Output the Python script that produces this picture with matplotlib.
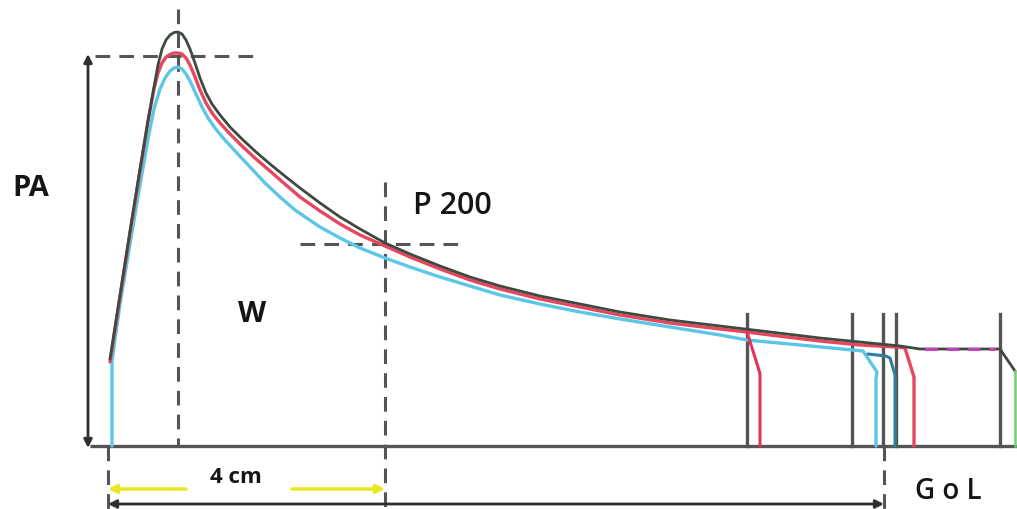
import matplotlib
matplotlib.use("Agg")
import matplotlib.pyplot as plt

# ---- data (diagram coordinates, y grows downward) ----
green_x = [110, 120, 130, 140, 148, 154, 158, 162, 166, 170, 174, 178, 182, 186, 190, 195, 200, 206, 212, 220, 230, 242, 256, 270, 286, 300, 320, 340, 360, 385,
           410, 440, 470, 500, 540, 580, 620, 670, 720, 770, 820, 860, 900, 920, 1000, 1015]
green_y = [360, 296, 232, 170, 122, 88, 66, 50, 41, 36, 33.5, 33, 35, 41, 50, 64, 79, 94, 105, 116, 128, 140, 153, 165, 178, 189, 204, 218, 230, 244,
           255, 267, 278, 287, 297, 305, 313, 321, 327, 333, 339, 343, 347, 350, 350, 372]
green_end_x = [1015, 1015]
green_end_y = [372, 447]

red_x = [110, 120, 130, 140, 148, 154, 158, 162, 166, 170, 174, 178, 182, 186, 190, 195, 200, 206, 212, 220, 230, 242, 256, 270, 286, 300, 320, 340, 360, 385,
         410, 440, 470, 500, 540, 580, 620, 670, 720, 747, 770, 820, 860, 896, 905, 914, 914]
red_y = [363, 298, 234, 172, 122, 90, 74, 64, 58, 55.5, 54, 54, 55, 59, 66, 78, 91, 104, 114, 124, 135, 147, 160, 172, 186, 198, 212, 225, 236, 247,
         258, 270, 281, 290, 300, 308, 316, 324, 330, 333, 336, 342, 346, 348, 349, 378, 447]
red_drop_x = [747, 758, 760, 760]
red_drop_y = [333, 368, 375, 447]

cyan_x = [112, 112, 120, 130, 140, 148, 154, 160, 165, 170, 174, 178, 182, 186, 190, 196, 202, 208, 215, 224, 236, 250, 265, 280, 295, 320, 340, 360, 385,
          410, 440, 470, 500, 540, 580, 620, 670, 720, 747, 800, 863, 877, 876, 876]
cyan_y = [447, 362, 305, 245, 186, 140, 110, 90, 79, 72, 69, 68, 70, 75, 82, 95, 108, 119, 129, 140, 153, 168, 184, 198, 211, 228, 239, 249, 259,
          268, 278, 287, 296, 305, 313, 320, 328, 336, 341, 346, 352, 373, 380, 447]
teal_x = [868, 886, 890, 895, 895]
teal_y = [355, 357, 359, 376, 447]

marker_x = [747, 852, 883, 896, 1000]      # solid vertical guide lines
magenta_x = [925, 995]
magenta_y = [350, 350]

labels = {"PA": (31, 189), "P 200": (452, 206), "W": (252, 315), "4 cm": (236, 478), "G o L": (948, 492)}

# ---- figure ----
fig = plt.figure(figsize=(10.17, 5.10), dpi=100)
ax = fig.add_axes([0, 0, 1, 1])
ax.set_xlim(0, 1017)
ax.set_ylim(510, 0)
ax.axis("off")

gray = "#555555"
dash = (0, (4.8, 3))

# baseline and vertical arrow
ax.plot([90, 1017], [447, 447], color=gray, lw=2.4, solid_capstyle="butt", zorder=2)
ax.annotate("", xy=(88, 55), xytext=(88, 449),
            arrowprops=dict(arrowstyle="<|-|>", color="#303030", lw=2.0, mutation_scale=12, shrinkA=0, shrinkB=0))

# dashed guide lines
ax.plot([95, 255], [57, 57], color=gray, lw=2.2, ls=dash)
ax.plot([178, 178], [10, 447], color=gray, lw=2.2, ls=dash)
ax.plot([385, 385], [183, 510], color=gray, lw=2.2, ls=dash)
ax.plot([300, 465], [245, 245], color=gray, lw=2.2, ls=dash)
ax.plot([108, 108], [447, 510], color=gray, lw=2.2, ls=dash)
ax.plot([884, 884], [447, 510], color=gray, lw=2.2, ls=dash)

# solid vertical markers
for xv in marker_x:
    ax.plot([xv, xv], [315, 447], color=gray, lw=2.4, zorder=2)

# curves
kw = dict(solid_joinstyle="round", solid_capstyle="round")
ax.plot(cyan_x, cyan_y, color="#5cc6e6", lw=2.4, zorder=3, **kw)
ax.plot(teal_x, teal_y, color="#2f7f9c", lw=2.2, zorder=3, **kw)
ax.plot(red_x, red_y, color="#e8455f", lw=2.4, zorder=4, **kw)
ax.plot(red_drop_x, red_drop_y, color="#e0355a", lw=2.2, zorder=4, **kw)
ax.plot(green_x, green_y, color="#3e4a3e", lw=2.0, zorder=5, **kw)
ax.plot(green_end_x, green_end_y, color="#6fcf6f", lw=1.8, zorder=5)
ax.plot(magenta_x, magenta_y, color="#c040c0", lw=2.2, ls=(0, (4, 3)), zorder=6)

# yellow arrows
ax.annotate("", xy=(108, 490), xytext=(186, 490),
            arrowprops=dict(arrowstyle="-|>", color="#e8e820", lw=2.5, mutation_scale=12, shrinkA=0, shrinkB=0))
ax.annotate("", xy=(385, 490), xytext=(292, 490),
            arrowprops=dict(arrowstyle="-|>", color="#e8e820", lw=2.5, mutation_scale=12, shrinkA=0, shrinkB=0))
# black length arrow
ax.annotate("", xy=(108, 505), xytext=(884, 505),
            arrowprops=dict(arrowstyle="<|-|>", color="#303030", lw=2.0, mutation_scale=12, shrinkA=0, shrinkB=0))

# text
tk = dict(family="Open Sans", ha="center", va="center", color="#151515")
ax.text(*labels["PA"], "PA", fontsize=21, fontweight="bold", **tk)
ax.text(*labels["P 200"], "P 200", fontsize=22, fontweight="semibold", **tk)
ax.text(*labels["W"], "W", fontsize=21, fontweight="bold", **tk)
ax.text(*labels["4 cm"], "4 cm", fontsize=16, fontweight="bold", **tk)
ax.text(*labels["G o L"], "G o L", fontsize=20, fontweight="semibold", **tk)

fig.savefig("out.png", dpi=100)
